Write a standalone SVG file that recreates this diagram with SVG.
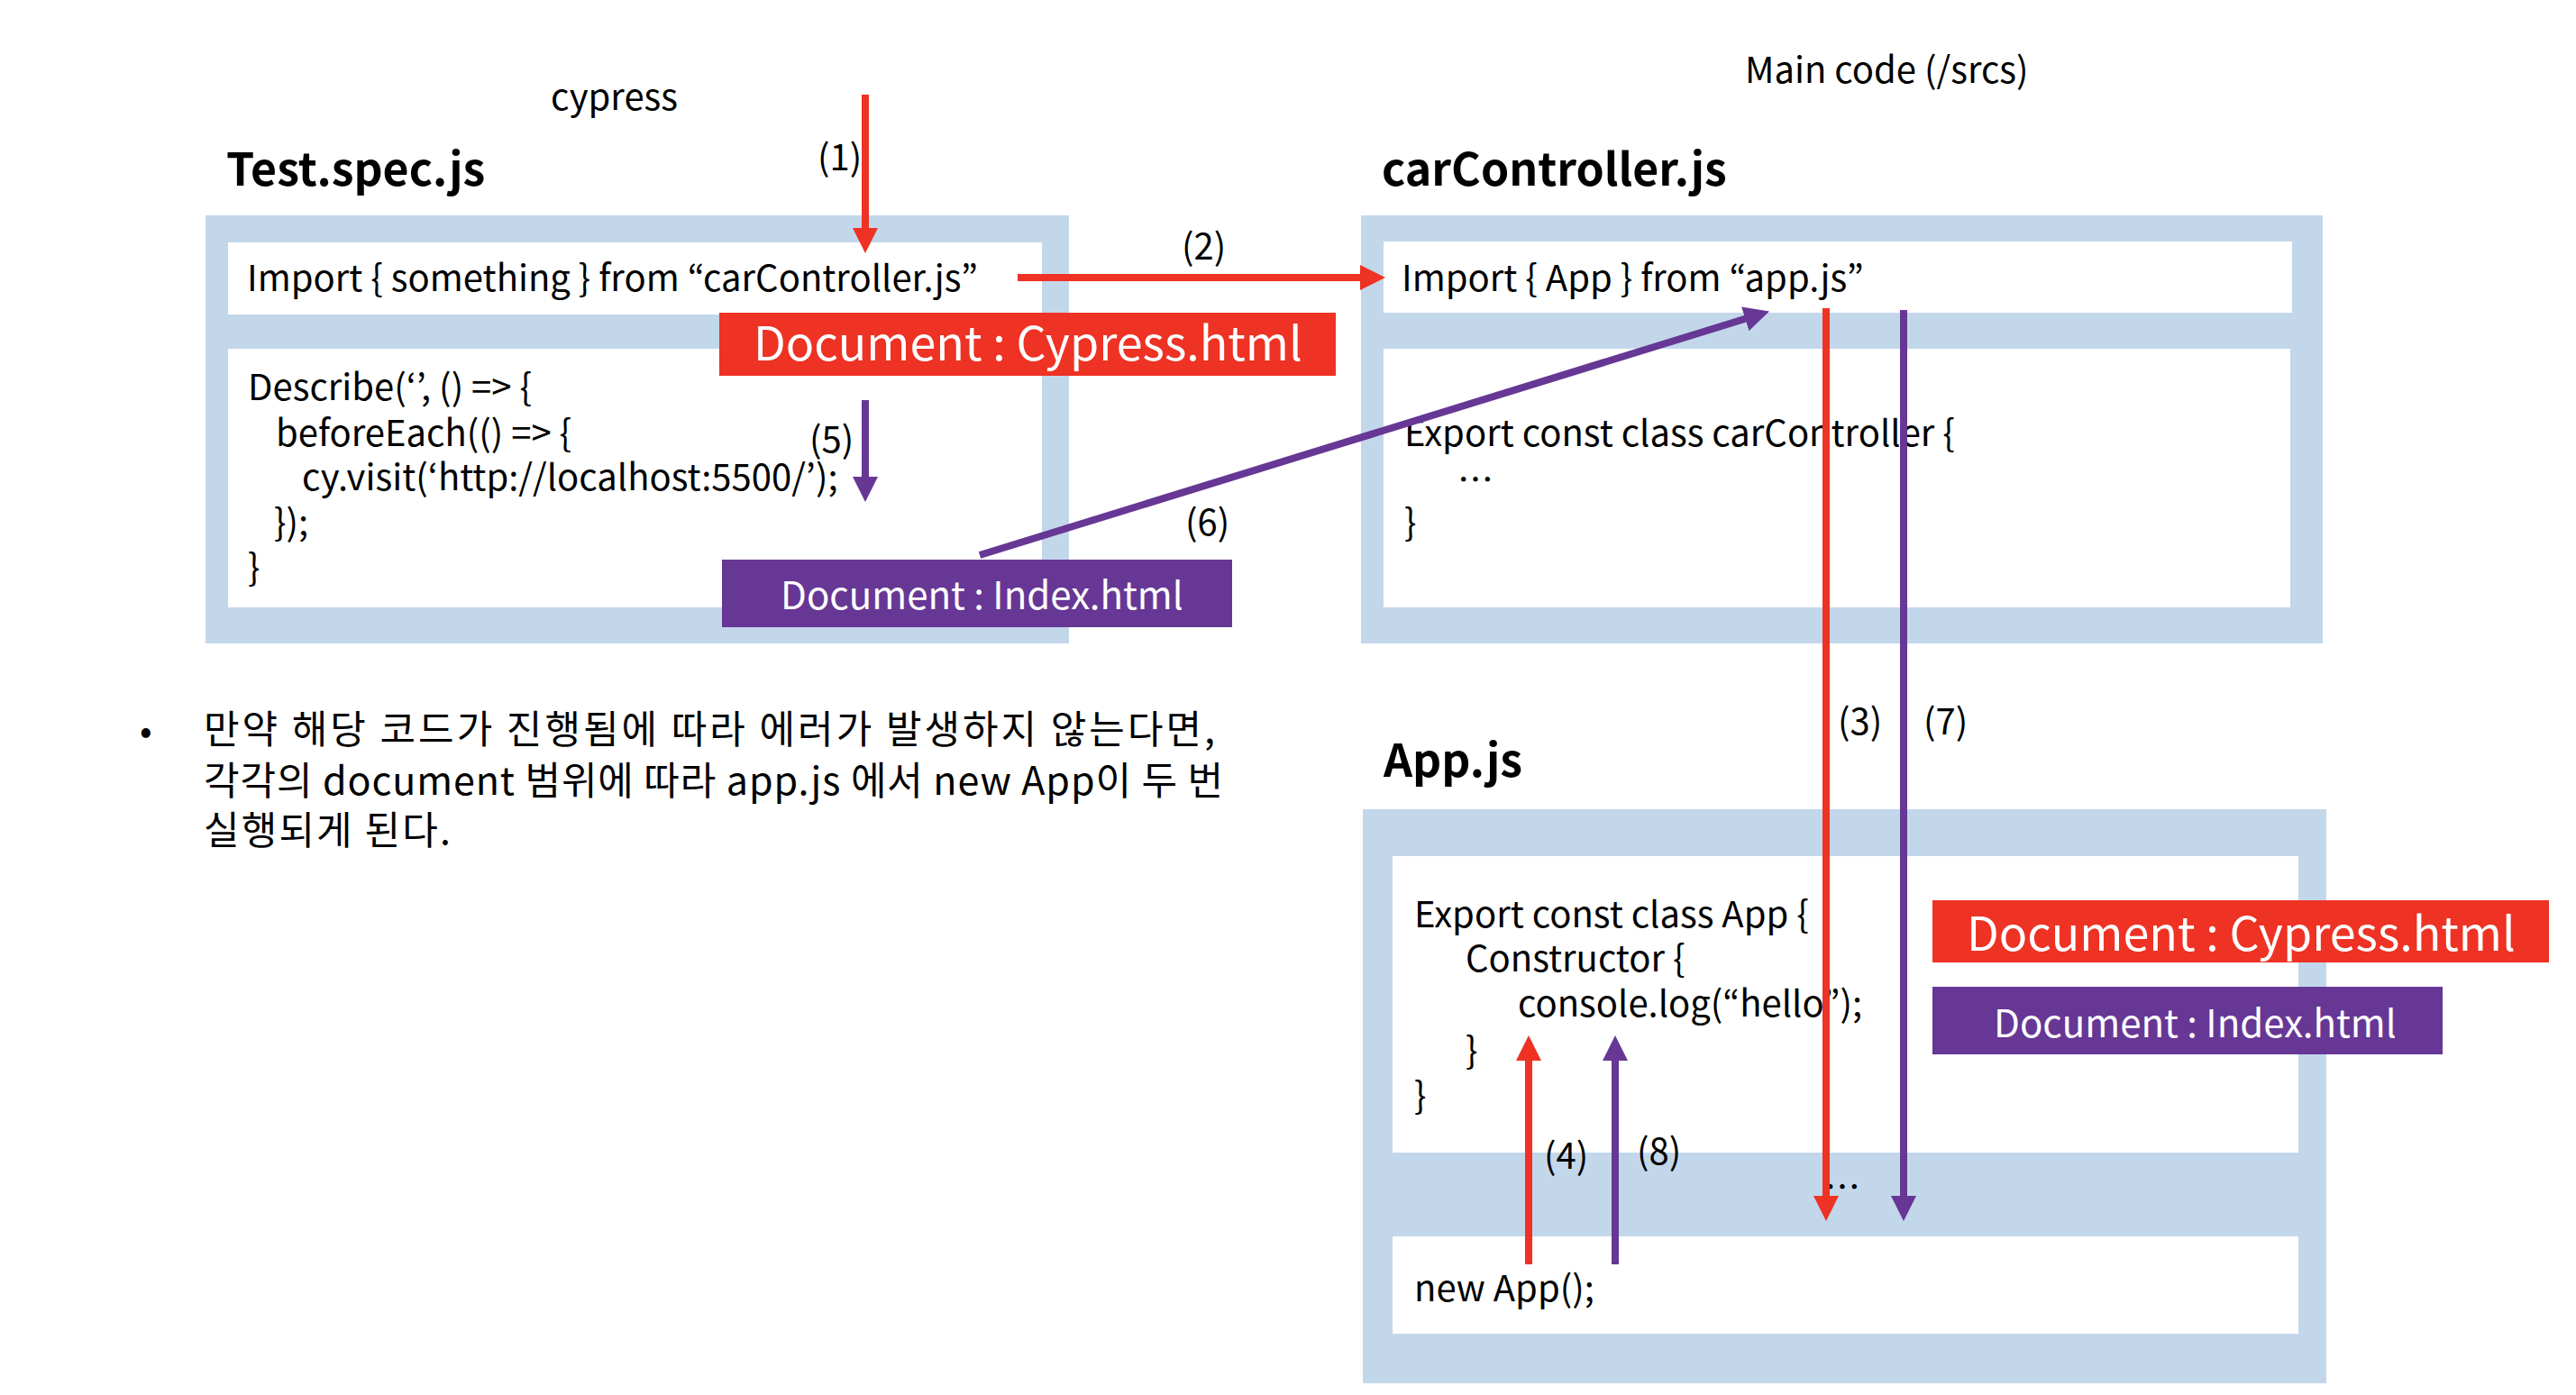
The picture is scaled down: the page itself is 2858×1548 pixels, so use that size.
<svg xmlns="http://www.w3.org/2000/svg" width="2858" height="1548" viewBox="0 0 2858 1548">
<defs>
<style>
text{font-family:"Noto Sans CJK KR","Noto Sans",sans-serif;fill:#000;}
.code{font-size:40px;}
.title{font-size:50px;font-weight:bold;}
.lbl{font-size:40px;}
.ko{font-size:43px;}
.doc-r{font-size:52px;fill:#fff;}
.doc-p{font-size:42px;fill:#fff;}
.outer{fill:#C3D7EB;}
.inner{fill:#fff;}
.red{stroke:#EE3224;stroke-width:8;fill:none;}
.pur{stroke:#673795;stroke-width:8;fill:none;}
</style>
<marker id="ah-r" markerUnits="userSpaceOnUse" viewBox="0 0 28 28" refX="6" refY="14" markerWidth="28" markerHeight="28" orient="auto">
<path d="M0,0 L28,14 L0,28 z" fill="#EE3224"/>
</marker>
<marker id="ah-p" markerUnits="userSpaceOnUse" viewBox="0 0 28 28" refX="6" refY="14" markerWidth="28" markerHeight="28" orient="auto">
<path d="M0,0 L28,14 L0,28 z" fill="#673795"/>
</marker>
</defs>
<rect width="2858" height="1548" fill="#fff"/>

<text class="lbl" x="611" y="122">cypress</text>
<text class="lbl" x="1936" y="92">Main code (/srcs)</text>

<g id="test-spec">
<text class="title" x="251" y="206">Test.spec.js</text>
<rect class="outer" x="228" y="239" width="958" height="475"/>
<rect class="inner" x="253" y="269" width="903" height="80"/>
<rect class="inner" x="253" y="387" width="903" height="287"/>
<text class="code" x="274" y="323">Import { something } from “carController.js”</text>
<text class="code" x="275" y="444">Describe(‘’, () =&gt; {</text>
<text class="code" x="306" y="495">beforeEach(() =&gt; {</text>
<text class="code" x="335" y="544">cy.visit(‘http://localhost:5500/’);</text>
<text class="code" x="304" y="594">});</text>
<text class="code" x="275" y="644">}</text>
</g>

<g id="car-controller">
<text class="title" x="1533" y="206">carController.js</text>
<rect class="outer" x="1510" y="239" width="1067" height="475"/>
<rect class="inner" x="1535" y="268" width="1008" height="79"/>
<rect class="inner" x="1535" y="387" width="1006" height="287"/>
<text class="code" x="1555" y="323">Import { App } from “app.js”</text>
<text class="code" x="1558" y="495">Export const class carController {</text>
<text class="code" x="1617" y="547">…</text>
<text class="code" x="1558" y="594">}</text>
</g>

<g id="app-js">
<text class="title" x="1535" y="862">App.js</text>
<rect class="outer" x="1512" y="898" width="1069" height="637"/>
<rect class="inner" x="1545" y="950" width="1005" height="329"/>
<rect class="inner" x="1545" y="1372" width="1005" height="108"/>
<text class="code" x="1569" y="1029">Export const class App {</text>
<text class="code" x="1626" y="1078">Constructor {</text>
<text class="code" x="1684" y="1128">console.log(“hello”);</text>
<text class="code" x="1626" y="1180">}</text>
<text class="code" x="1569" y="1230">}</text>
<text class="code" x="2024" y="1332">…</text>
<text class="code" x="1569" y="1444">new App();</text>
</g>

<g id="doc-cypress-1">
<rect x="798" y="347" width="684" height="70" fill="#EE3224"/>
<text class="doc-r" x="836" y="400">Document : Cypress.html</text>
</g>
<g id="doc-index-1">
<rect x="801" y="621" width="566" height="75" fill="#673795"/>
<text class="doc-p" x="866" y="676">Document : Index.html</text>
</g>
<g id="doc-cypress-2">
<rect x="2144" y="999" width="684" height="69" fill="#EE3224"/>
<text class="doc-r" x="2182" y="1055">Document : Cypress.html</text>
</g>
<g id="doc-index-2">
<rect x="2144" y="1095" width="566" height="75" fill="#673795"/>
<text class="doc-p" x="2212" y="1151">Document : Index.html</text>
</g>

<g id="connectors">
<line class="red" x1="960" y1="105" x2="960" y2="259" marker-end="url(#ah-r)"/>
<line class="red" x1="1129" y1="308" x2="1515" y2="308" marker-end="url(#ah-r)"/>
<line class="red" x1="2026" y1="342" x2="2026" y2="1333" marker-end="url(#ah-r)"/>
<line class="red" x1="1696" y1="1403" x2="1696" y2="1171" marker-end="url(#ah-r)"/>
<line class="pur" x1="960" y1="444" x2="960" y2="535" marker-end="url(#ah-p)"/>
<line class="pur" x1="1087" y1="616" x2="1942" y2="352" marker-end="url(#ah-p)"/>
<line class="pur" x1="2112" y1="344" x2="2112" y2="1333" marker-end="url(#ah-p)"/>
<line class="pur" x1="1792" y1="1403" x2="1792" y2="1171" marker-end="url(#ah-p)"/>
<text class="lbl" x="907" y="189">(1)</text>
<text class="lbl" x="1311" y="288">(2)</text>
<text class="lbl" x="2039" y="815">(3)</text>
<text class="lbl" x="1713" y="1297">(4)</text>
<text class="lbl" x="898" y="502">(5)</text>
<text class="lbl" x="1315" y="594">(6)</text>
<text class="lbl" x="2134" y="815">(7)</text>
<text class="lbl" x="1816" y="1292">(8)</text>
</g>

<g id="note">
<text class="lbl" x="155" y="825">•</text>
<text class="ko" x="226" y="825" textLength="1122" lengthAdjust="spacing">만약 해당 코드가 진행됨에 따라 에러가 발생하지 않는다면,</text>
<text class="ko" x="226" y="882" textLength="1131" lengthAdjust="spacing">각각의 document 범위에 따라 app.js 에서 new App이 두 번</text>
<text class="ko" x="226" y="937" textLength="274" lengthAdjust="spacing">실행되게 된다.</text>
</g>
</svg>
